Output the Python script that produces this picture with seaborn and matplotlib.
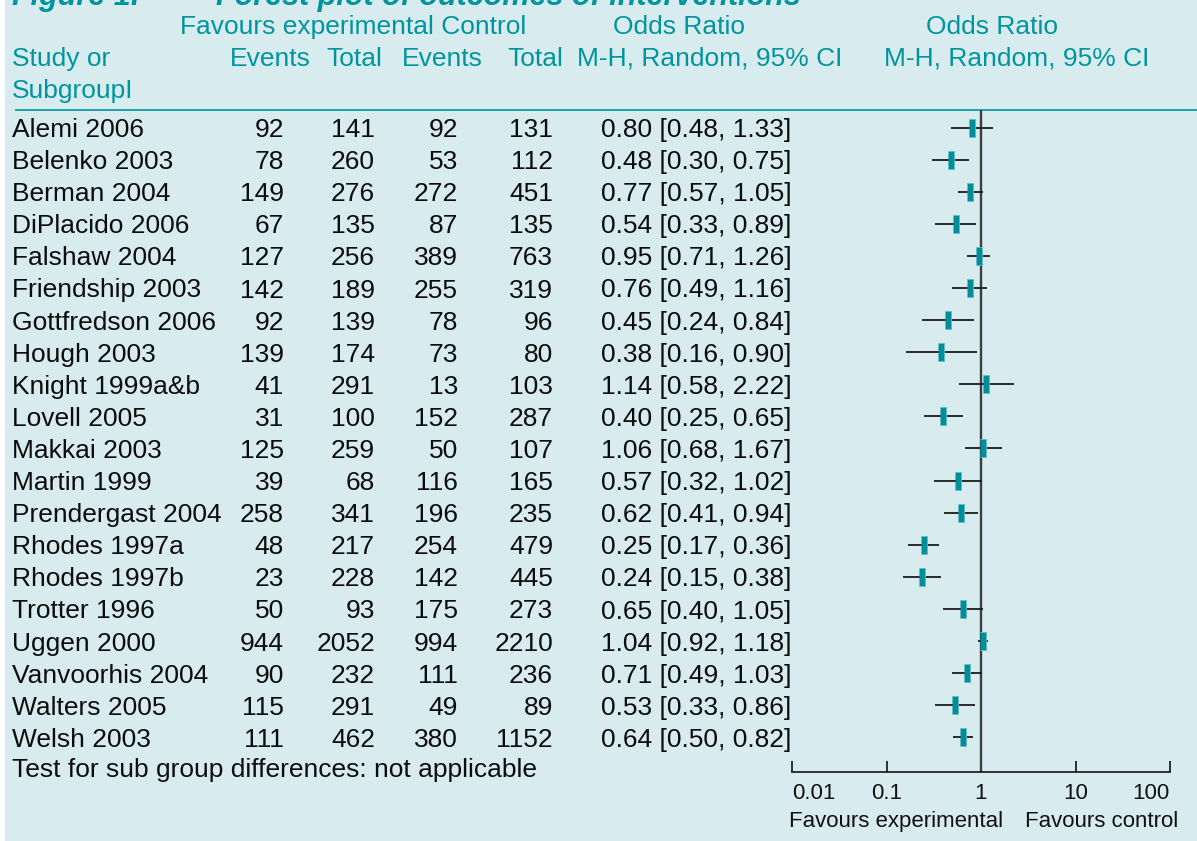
import numpy as np
import pandas as pd
import matplotlib
matplotlib.use("Agg")
import matplotlib.pyplot as plt
import matplotlib.transforms as mtrans
from matplotlib.patches import Rectangle
import seaborn as sns

# ---------------- data ----------------
studies = ["Alemi 2006", "Belenko 2003", "Berman 2004", "DiPlacido 2006", "Falshaw 2004",
           "Friendship 2003", "Gottfredson 2006", "Hough 2003", "Knight 1999a&b", "Lovell 2005",
           "Makkai 2003", "Martin 1999", "Prendergast 2004", "Rhodes 1997a", "Rhodes 1997b",
           "Trotter 1996", "Uggen 2000", "Vanvoorhis 2004", "Walters 2005", "Welsh 2003"]
exp_events = [92, 78, 149, 67, 127, 142, 92, 139, 41, 31, 125, 39, 258, 48, 23, 50, 944, 90, 115, 111]
exp_total = [141, 260, 276, 135, 256, 189, 139, 174, 291, 100, 259, 68, 341, 217, 228, 93, 2052, 232, 291, 462]
ctl_events = [92, 53, 272, 87, 389, 255, 78, 73, 13, 152, 50, 116, 196, 254, 142, 175, 994, 111, 49, 380]
ctl_total = [131, 112, 451, 135, 763, 319, 96, 80, 103, 287, 107, 165, 235, 479, 445, 273, 2210, 236, 89, 1152]
odds_ratio = [0.80, 0.48, 0.77, 0.54, 0.95, 0.76, 0.45, 0.38, 1.14, 0.40, 1.06, 0.57, 0.62, 0.25, 0.24,
              0.65, 1.04, 0.71, 0.53, 0.64]
ci_low = [0.48, 0.30, 0.57, 0.33, 0.71, 0.49, 0.24, 0.16, 0.58, 0.25, 0.68, 0.32, 0.41, 0.17, 0.15,
          0.40, 0.92, 0.49, 0.33, 0.50]
ci_high = [1.33, 0.75, 1.05, 0.89, 1.26, 1.16, 0.84, 0.90, 2.22, 0.65, 1.67, 1.02, 0.94, 0.36, 0.38,
           1.05, 1.18, 1.03, 0.86, 0.82]
tick_values = [0.01, 0.1, 1, 10, 100]
tick_labels = ["0.01", "0.1", "1", "10", "100"]

df = pd.DataFrame({"study": studies, "row": np.arange(len(studies)),
                   "or": odds_ratio, "lo": ci_low, "hi": ci_high})

# ---------------- style ----------------
sns.set_theme(style="white")
plt.rcParams["font.family"] = ["Liberation Sans", "DejaVu Sans"]

BG = "#d8ecf0"
TEAL = "#00959c"
SQ = "#008f98"
W, H = 1197, 841

fig = plt.figure(figsize=(W / 100, H / 100), dpi=100)
fig.patch.set_facecolor(BG)
fig.patches.append(Rectangle((0, 0), 5 / W, 1, transform=fig.transFigure,
                             facecolor="white", edgecolor="none", zorder=0))

# pixel-coordinate layer for text
tax = fig.add_axes([0, 0, 1, 1], zorder=1)
tax.set_xlim(0, W)
tax.set_ylim(H, 0)
tax.axis("off")
tax.patch.set_alpha(0)

# forest axes
x0, x1 = 792, 1170
y_top, y_bot = 109.5, 772
row0, row_h = 127.5, 32.1
ax = fig.add_axes([x0 / W, 1 - y_bot / H, (x1 - x0) / W, (y_bot - y_top) / H], zorder=2)
ax.patch.set_alpha(0)
ax.set_xscale("log")
ax.set_xlim(0.01, 100)
ax.set_ylim((y_bot - row0) / row_h, (y_top - row0) / row_h)

ax.axvline(1, color="#3c3c3c", lw=1.7, zorder=1)
ax.hlines(df["row"], df["lo"], df["hi"], color="#1c1c1c", lw=1.3, zorder=2)
rect = [(-0.32, -1), (0.32, -1), (0.32, 1), (-0.32, 1)]
sns.scatterplot(data=df, x="or", y="row", marker=rect, s=150, color=SQ,
                edgecolor="#5fbfc5", linewidth=0.6, zorder=3, ax=ax, legend=False)

for s in ["top", "right", "left"]:
    ax.spines[s].set_visible(False)
ax.spines["bottom"].set_color("black")
ax.spines["bottom"].set_linewidth(1.1)
ax.set_yticks([])
ax.xaxis.set_minor_locator(matplotlib.ticker.NullLocator())
ax.set_xticks(tick_values, labels=tick_labels)
ax.tick_params(axis="x", direction="in", length=8, width=1.1, color="black",
               labelsize=16, pad=8, labelcolor="#111111", bottom=True)
labs = ax.get_xticklabels()
labs[0].set_ha("left")
labs[-1].set_ha("right")
ax.set_xlabel("")
ax.set_ylabel("")

# ---------------- text ----------------
# title (partially cut off at the top)
tax.text(12, 5, "Figure 1.", fontsize=22, fontweight="bold", fontstyle="italic",
         color=TEAL, va="baseline", ha="left")
tax.text(216, 5, "Forest plot of outcomes of interventions", fontsize=22, fontweight="bold",
         fontstyle="italic", color=TEAL, va="baseline", ha="left")

hfs = 19
tax.text(180, 34.3, "Favours experimental Control", fontsize=hfs, color=TEAL, va="baseline")
tax.text(613, 34.3, "Odds Ratio", fontsize=hfs, color=TEAL, va="baseline")
tax.text(926, 34.3, "Odds Ratio", fontsize=hfs, color=TEAL, va="baseline")
tax.text(12, 65.7, "Study or", fontsize=hfs, color=TEAL, va="baseline")
tax.text(12, 98, "SubgroupI", fontsize=hfs, color=TEAL, va="baseline")
for xx, t in [(230, "Events"), (326, "Total"), (402, "Events"), (507, "Total"),
              (577, "M-H, Random, 95% CI"), (884, "M-H, Random, 95% CI")]:
    tax.text(xx, 65.7, t, fontsize=hfs, color=TEAL, va="baseline")

tax.plot([15, W], [110, 110], color=TEAL, lw=1.2, solid_capstyle="butt")

# rows: x in pixels, y in forest row units
trans = mtrans.blended_transform_factory(tax.transData, ax.transData)
base_off = 9.5 / row_h
for i in range(len(studies)):
    y = i + base_off
    kw = dict(fontsize=hfs, color="#0d0d0d", va="baseline", transform=trans)
    tax.text(12, y, studies[i], ha="left", **kw)
    tax.text(284, y, str(exp_events[i]), ha="right", **kw)
    tax.text(375, y, str(exp_total[i]), ha="right", **kw)
    tax.text(458, y, str(ctl_events[i]), ha="right", **kw)
    tax.text(553, y, str(ctl_total[i]), ha="right", **kw)
    tax.text(601, y, f"{odds_ratio[i]:.2f} [{ci_low[i]:.2f}, {ci_high[i]:.2f}]", ha="left", **kw)

tax.text(12, 777.5, "Test for sub group differences: not applicable", fontsize=hfs,
         color="#0d0d0d", va="baseline")
tax.text(789, 827, "Favours experimental", fontsize=16, color="#111111", va="baseline")
tax.text(1025, 827, "Favours control", fontsize=16, color="#111111", va="baseline")

fig.savefig("out.png", dpi=100, facecolor=BG)
